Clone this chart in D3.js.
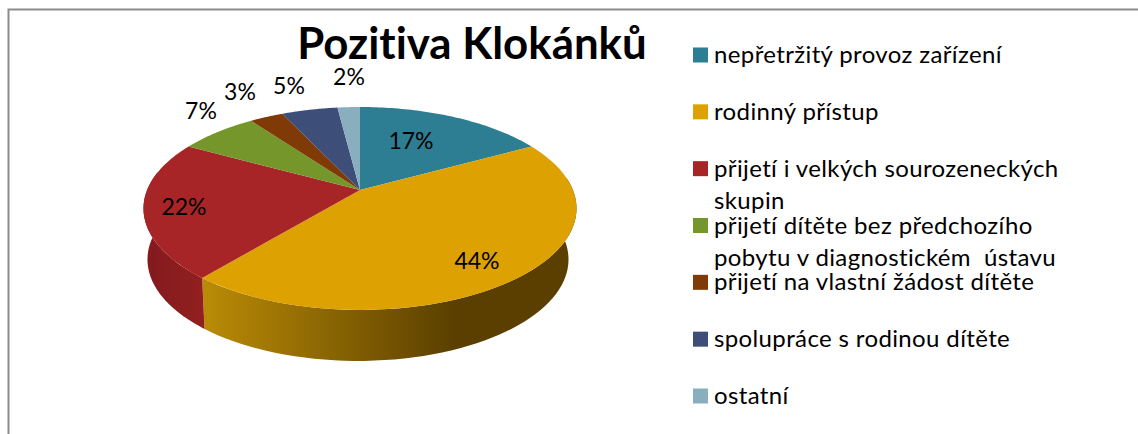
<!DOCTYPE html>
<html><head><meta charset="utf-8">
<script src="https://cdn.jsdelivr.net/npm/d3@7"></script>
<style>
html,body{margin:0;padding:0;background:#fff;overflow:hidden}
svg{display:block}
text{font-family:"Lato","Open Sans",sans-serif;fill:#000;font-variant-ligatures:none}
</style></head><body><svg id="c" width="1138" height="434"></svg>
<script>
const categories=["nepřetržitý provoz zařízení","rodinný přístup","přijetí i velkých sourozeneckých skupin","přijetí dítěte bez předchozího pobytu v diagnostickém  ústavu","přijetí na vlastní žádost dítěte","spolupráce s rodinou dítěte","ostatní"];
const values=[17,44,22,7,3,5,2];
const sliceColors=["#2E7E93","#DDA102","#A72527","#75962B","#803A05","#3D4F79","#89AFBE"];
const wallFrom=["#1f5666","#B98A06","#93201F","#50661d","#5a2903","#2a3753","#5f7a85"];
const wallTo=["#1f5666","#5A3F00","#841A1E","#50661d","#5a2903","#2a3753","#5f7a85"];
const legendLines=[["nepřetržitý provoz zařízení"],["rodinný přístup"],["přijetí i velkých sourozeneckých","skupin"],["přijetí dítěte bez předchozího","pobytu v diagnostickém  ústavu"],["přijetí na vlastní žádost dítěte"],["spolupráce s rodinou dítěte"],["ostatní"]];
const labelAnchors=[[411,141],[477,261],[184,207],[201,111],[240,92],[289,86],[349,77]];

const svg=d3.select("#c");
// frame
svg.append("path").attr("d","M8.5,434V9.5H1138").attr("fill","none").attr("stroke","#8c8c8c").attr("stroke-width",2);

// perspective disc
const k=-0.182;
const topFace={x:360,y:190,a:98.1,b:212.9};
const botFace={x:358,y:241,a:98.1,b:207};
const proj=(d,t,r=1)=>{const u=Math.sin(t)*r,v=-Math.cos(t)*r,w=1+k*v;return [d.x+d.b*u/w,d.y+d.a*v/w];};
const arcs=d3.pie().sort(null).value(d=>d)(values);
const samples=(a0,a1)=>d3.range(0,61).map(i=>a0+(a1-a0)*i/60);
const line=d3.line();
const defs=svg.append("defs");

// side wall, visible arc only (front half plus the silhouette)
const visFrom=Math.PI*0.46,visTo=Math.PI*1.56;
arcs.forEach((s,i)=>{
  const a0=Math.max(s.startAngle,visFrom),a1=Math.min(s.endAngle,visTo);
  if(a1<=a0)return;
  const g=defs.append("linearGradient").attr("id","w"+i).attr("gradientUnits","userSpaceOnUse")
    .attr("x1",i===1?207:150).attr("x2",i===1?455:207).attr("y1",0).attr("y2",0);
  g.append("stop").attr("offset",0).attr("stop-color",i===2?wallTo[i]:wallFrom[i]);
  g.append("stop").attr("offset",1).attr("stop-color",i===2?wallFrom[i]:wallTo[i]);
  const ts=samples(a0,a1);
  const pts=ts.map(t=>proj(topFace,t)).concat(ts.slice().reverse().map(t=>proj(botFace,t)));
  svg.append("path").attr("d",line(pts)+"Z").attr("fill",`url(#w${i})`);
});
// top face
arcs.forEach((s,i)=>{
  const pts=[[topFace.x,topFace.y]].concat(samples(s.startAngle,s.endAngle).map(t=>proj(topFace,t)));
  svg.append("path").attr("d",line(pts)+"Z").attr("fill",sliceColors[i]);
});
// data labels
svg.selectAll("text.lab").data(values).join("text").attr("class","lab")
  .attr("x",(d,i)=>labelAnchors[i][0]).attr("y",(d,i)=>labelAnchors[i][1]+8)
  .attr("text-anchor","middle").attr("font-size",23).text(d=>d+"%");
// title
svg.append("text").attr("x",472).attr("y",59).attr("text-anchor","middle")
  .attr("font-size",43.8).attr("font-weight",700).text("Pozitiva Klokánků");
// legend
const y=d3.scalePoint().domain(d3.range(categories.length)).range([55,396]);
categories.forEach((c,i)=>{
  svg.append("rect").attr("x",693).attr("y",y(i)-7.5).attr("width",15).attr("height",15).attr("fill",sliceColors[i]);
  legendLines[i].forEach((t,j)=>{
    svg.append("text").attr("x",714).attr("y",y(i)+8+j*32.5).attr("font-size",24).attr("letter-spacing",0.37).style("white-space","pre").text(t);
  });
});
</script></body></html>
